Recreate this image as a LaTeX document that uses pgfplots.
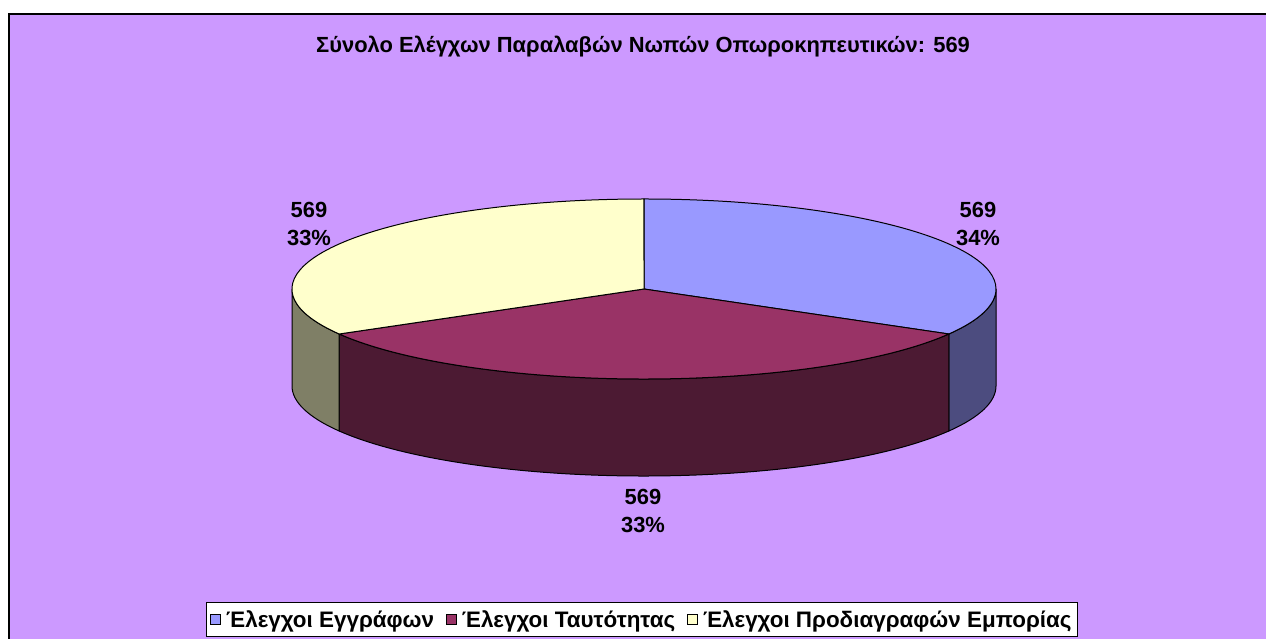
\documentclass[border=0pt]{standalone}
\usepackage{pgfplots}
\pgfplotsset{compat=1.18}
\usepackage{fontspec}
\setmainfont{Liberation Sans}
\definecolor{bg}{HTML}{CC99FF}
\definecolor{topA}{HTML}{9999FF}
\definecolor{sideA}{HTML}{4C4C7F}
\definecolor{topB}{HTML}{993366}
\definecolor{sideB}{HTML}{4C1A33}
\definecolor{topC}{HTML}{FFFFCC}
\definecolor{sideC}{HTML}{7F7F66}
% data: Έλεγχοι Εγγράφων, Ταυτότητας, Προδιαγραφών Εμπορίας
\def\va{569}\def\vb{569}\def\vc{569}
\def\cx{644}\def\cy{350}\def\rx{352}\def\ry{90}\def\dep{97}
\begin{document}
\begin{tikzpicture}
\pgfmathsetmacro\tot{\va+\vb+\vc}
\pgfmathsetmacro\aA{90}
\pgfmathsetmacro\aB{90-360*(\va/\tot)}
\pgfmathsetmacro\aC{\aB-360*(\vb/\tot)}
\pgfmathsetmacro\aD{\aC-360*(\vc/\tot)}
\pgfmathsetmacro\xA{\cx+\rx*cos(\aA)}\pgfmathsetmacro\yA{\cy+\ry*sin(\aA)}
\pgfmathsetmacro\xB{\cx+\rx*cos(\aB)}\pgfmathsetmacro\yB{\cy+\ry*sin(\aB)}
\pgfmathsetmacro\xC{\cx+\rx*cos(\aC)}\pgfmathsetmacro\yC{\cy+\ry*sin(\aC)}
\pgfmathsetmacro\xL{\cx-\rx}
\begin{axis}[at={(0,0)}, anchor=south west, width=1266bp, height=639bp,
  scale only axis, xmin=0, xmax=1266, ymin=0, ymax=639, hide axis, clip=false,
  legend style={at={(axis cs:206,37)}, anchor=north west, draw=black, fill=white,
    line width=0.8bp, font=\fontsize{22.5}{26}\selectfont\bfseries,
    inner xsep=4bp, inner ysep=6bp},
  legend columns=3,
  legend image code/.code={\filldraw[#1, draw=black, line width=0.8bp] (0bp,-5bp) rectangle (10bp,5bp);},
  legend cell align=left,
  /tikz/every odd column/.append style={column sep=3bp},
  /tikz/every even column/.append style={column sep=10bp},
]
\fill[white] (axis cs:0,0) rectangle (axis cs:1266,639);
\fill[bg] (axis cs:8,0) rectangle (axis cs:1266,625);
\draw[line width=2bp] (axis cs:9,0) -- (axis cs:9,625) -- (axis cs:1266,625);
% sides
\filldraw[fill=sideA, draw=black, line width=1bp] (axis cs:\xB,\yB) arc[start angle=\aB, end angle=0, x radius=\rx bp, y radius=\ry bp] -- ++(0bp,-\dep bp) arc[start angle=0, end angle=\aB, x radius=\rx bp, y radius=\ry bp] -- cycle;
\filldraw[fill=sideB, draw=black, line width=1bp] (axis cs:\xC,\yC) arc[start angle=\aC, end angle=\aB, x radius=\rx bp, y radius=\ry bp] -- ++(0bp,-\dep bp) arc[start angle=\aB, end angle=\aC, x radius=\rx bp, y radius=\ry bp] -- cycle;
\filldraw[fill=sideC, draw=black, line width=1bp] (axis cs:\xL,\cy) arc[start angle=-180, end angle=\aC, x radius=\rx bp, y radius=\ry bp] -- ++(0bp,-\dep bp) arc[start angle=\aC, end angle=-180, x radius=\rx bp, y radius=\ry bp] -- cycle;
% tops
\filldraw[fill=topA, draw=black, line width=1bp] (axis cs:\cx,\cy) -- (axis cs:\xA,\yA) arc[start angle=\aA, end angle=\aB, x radius=\rx bp, y radius=\ry bp] -- cycle;
\filldraw[fill=topB, draw=black, line width=1bp] (axis cs:\cx,\cy) -- (axis cs:\xB,\yB) arc[start angle=\aB, end angle=\aC, x radius=\rx bp, y radius=\ry bp] -- cycle;
\filldraw[fill=topC, draw=black, line width=1bp] (axis cs:\cx,\cy) -- (axis cs:\xC,\yC) arc[start angle=\aC, end angle=\aD, x radius=\rx bp, y radius=\ry bp] -- cycle;
% labels
\node[align=center, font=\fontsize{22}{28}\selectfont\bfseries] at (axis cs:978,415) {569\\34\%};
\node[align=center, font=\fontsize{22}{28}\selectfont\bfseries] at (axis cs:643,128) {569\\33\%};
\node[align=center, font=\fontsize{22}{28}\selectfont\bfseries] at (axis cs:309,415) {569\\33\%};
% title
\node[font=\fontsize{22}{26}\selectfont\bfseries] at (axis cs:643,592) {Σύνολο Ελέγχων Παραλαβών Νωπών Οπωροκηπευτικών: 569};
\addlegendimage{fill=topA}
\addlegendentry{Έλεγχοι Εγγράφων}
\addlegendimage{fill=topB}
\addlegendentry{Έλεγχοι Ταυτότητας}
\addlegendimage{fill=topC}
\addlegendentry{Έλεγχοι Προδιαγραφών Εμπορίας}
\end{axis}
\pgfresetboundingbox
\useasboundingbox (0,0) rectangle (1266bp,639bp);
\end{tikzpicture}
\end{document}
